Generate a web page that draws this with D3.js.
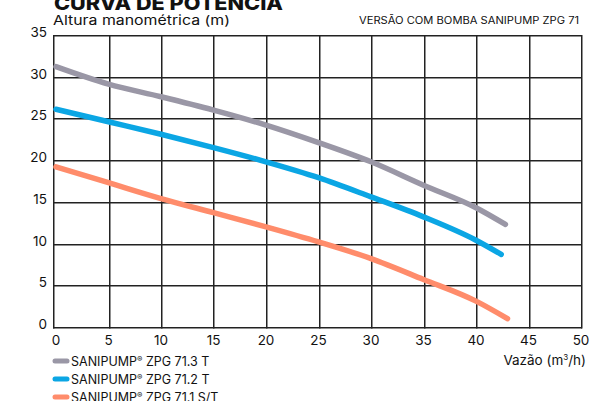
<!DOCTYPE html>
<html><head><meta charset="utf-8">
<script src="https://cdn.jsdelivr.net/npm/d3@7"></script>
<style>
body{margin:0;background:#fff;}
svg{display:block;}
</style></head>
<body><svg id="c" width="590" height="401"></svg>
<script>
const xTicks = [0,5,10,15,20,25,30,35,40,45,50];
const yTicks = [0,5,10,15,20,25,30,35];
const seriesNames = ["SANIPUMP® ZPG 71.3 T","SANIPUMP® ZPG 71.2 T","SANIPUMP® ZPG 71.1 S/T"];
const seriesColors = ["#9a97a6","#0ba6e4","#ff8c6b"];
const flowGray   = [0,5,10,15,20,25,30,35,40,42.8];
const headGray   = [31.2,29.1,27.6,26.0,24.2,22.1,19.8,17.0,14.3,12.3];
const flowBlue   = [0,5,10,15,20,25,30,35,40,42.4];
const headBlue   = [26.1,24.6,23.1,21.5,19.8,17.9,15.6,13.2,10.4,8.7];
const flowOrange = [0,5,10,15,20,25,30,35,40,43.0];
const headOrange = [19.2,17.3,15.4,13.7,12.0,10.2,8.2,5.7,3.1,1.0];

const series = [
  {name:seriesNames[0], color:seriesColors[0], pts:flowGray.map((v,i)=>[v,headGray[i]])},
  {name:seriesNames[1], color:seriesColors[1], pts:flowBlue.map((v,i)=>[v,headBlue[i]])},
  {name:seriesNames[2], color:seriesColors[2], pts:flowOrange.map((v,i)=>[v,headOrange[i]])}
];

const FONT = "Inter, 'Open Sans', sans-serif";
const svg = d3.select("#c");
const x = d3.scaleLinear().domain([0,50]).range([56,581]);
const y = d3.scaleLinear().domain([0,35]).range([327,35]);

// grid
const grid = svg.append("g");
grid.selectAll("rect.h").data(yTicks).enter().append("rect").attr("class","h")
  .attr("x",x(0)-3).attr("width",x(50)-x(0)+4)
  .attr("y",d=>Math.round(y(d))).attr("height",1.5).attr("fill","#222");
grid.selectAll("rect.v").data(xTicks).enter().append("rect").attr("class","v")
  .attr("x",d=>d===0?Math.round(x(0))-3:Math.round(x(d))).attr("width",1.5)
  .attr("y",y(35)).attr("height",y(0)-y(35)+1.5).attr("fill","#222");

// titles
svg.append("text").attr("x",54).attr("y",10).attr("font-size",19).attr("font-weight",800)
  .attr("font-family",FONT).attr("textLength",229).attr("lengthAdjust","spacingAndGlyphs").attr("fill","#111")
  .text("CURVA DE POTÊNCIA");
svg.append("text").attr("x",53).attr("y",25).attr("font-size",13).attr("font-family",FONT).attr("fill","#111")
  .attr("textLength",177).attr("lengthAdjust","spacingAndGlyphs")
  .text("Altura manométrica (m)");
svg.append("text").attr("x",579).attr("y",24).attr("font-size",10).attr("font-family",FONT).attr("fill","#111")
  .attr("text-anchor","end").attr("textLength",220).attr("lengthAdjust","spacingAndGlyphs")
  .text("VERSÃO COM BOMBA SANIPUMP ZPG 71");

// tick labels
svg.selectAll("text.yl").data(yTicks).enter().append("text").attr("class","yl")
  .attr("x",47).attr("y",d=>y(d)+2).attr("text-anchor","end").attr("font-size",13.5)
  .attr("font-family",FONT).attr("fill","#111").text(d=>d);
svg.selectAll("text.xl").data(xTicks).enter().append("text").attr("class","xl")
  .attr("x",d=>x(d)).attr("y",345).attr("text-anchor","middle").attr("font-size",13.5)
  .attr("font-family",FONT).attr("fill","#111").text(d=>d);

const xt = svg.append("text").attr("x",586).attr("y",365).attr("text-anchor","end")
  .attr("font-size",13.5).attr("font-family",FONT).attr("fill","#111");
xt.append("tspan").text("Vazão (m");
xt.append("tspan").attr("font-size",8).attr("dy",-5).text("3");
xt.append("tspan").attr("dy",5).text("/h)");

// curves
const lineGen = d3.line().x(d=>x(d[0])).y(d=>y(d[1])).curve(d3.curveMonotoneX);
svg.selectAll("path.s").data(series).enter().append("path").attr("class","s")
  .attr("d",d=>lineGen(d.pts)).attr("fill","none").attr("stroke",d=>d.color)
  .attr("stroke-width",5.5).attr("stroke-linecap","round").attr("stroke-linejoin","round");

// legend
const lg = svg.selectAll("g.lg").data(series).enter().append("g").attr("class","lg")
  .attr("transform",(d,i)=>`translate(0,${361+i*18})`);
lg.append("line").attr("x1",55).attr("x2",67).attr("y1",0).attr("y2",0)
  .attr("stroke",d=>d.color).attr("stroke-width",5).attr("stroke-linecap","round");
lg.append("text").attr("x",71).attr("y",4.5).attr("font-size",12.5).attr("font-family",FONT).attr("fill","#111")
  .each(function(d){
    const t=d3.select(this);
    const parts=d.name.split("®");
    t.append("tspan").text(parts[0]);
    t.append("tspan").attr("font-size",8).attr("dy",-4).text("®");
    t.append("tspan").attr("dy",4).text(parts[1]);
  });
</script></body></html>
